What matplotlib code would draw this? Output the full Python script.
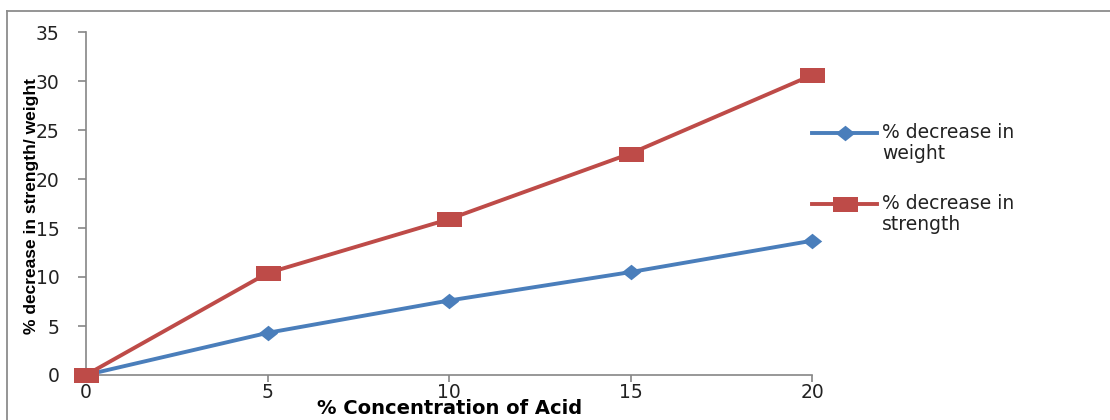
import matplotlib
matplotlib.use("Agg")
import matplotlib.pyplot as plt
from matplotlib.path import Path
from matplotlib.lines import Line2D

# Acid concentration (%) and the resulting losses (%)
concentration = [0, 5, 10, 15, 20]
weight_loss = [0, 4.3, 7.6, 10.5, 13.7]
strength_loss = [0, 10.4, 15.9, 22.6, 30.6]

x_ticks = [0, 5, 10, 15, 20]
y_ticks = [0, 5, 10, 15, 20, 25, 30, 35]

series_labels = ["% decrease in\nweight", "% decrease in\nstrength"]

BLUE = "#4A7EBB"
RED = "#BE4B48"
AXIS_GREY = "#868686"

# wide diamond and flat rectangle markers
diamond = Path([(0, -0.8), (1, 0), (0, 0.8), (-1, 0), (0, -0.8)],
               [Path.MOVETO, Path.LINETO, Path.LINETO, Path.LINETO, Path.CLOSEPOLY])
rect = Path([(-1, -0.6), (1, -0.6), (1, 0.6), (-1, 0.6), (-1, -0.6)],
            [Path.MOVETO, Path.LINETO, Path.LINETO, Path.LINETO, Path.CLOSEPOLY])

W, H = 1110, 420
fig = plt.figure(figsize=(W / 100, H / 100), dpi=100)
fig.patch.set_facecolor("white")


def fx(px):
    return px / W


def fy(py):
    return 1 - py / H


ax = fig.add_axes([fx(86), fy(375), fx(812) - fx(86), fy(32) - fy(375)])

ax.plot(concentration, weight_loss, color=BLUE, lw=2.8, marker=diamond,
        markersize=14, markeredgewidth=0, markerfacecolor=BLUE, clip_on=False,
        zorder=3)
ax.plot(concentration, strength_loss, color=RED, lw=2.8, marker=rect,
        markersize=18, markeredgewidth=0, markerfacecolor=RED, clip_on=False,
        zorder=4)

ax.set_xlim(0, 20)
ax.set_ylim(0, 35)
ax.set_xticks(x_ticks)
ax.set_yticks(y_ticks)
ax.set_xticklabels([str(v) for v in x_ticks])
ax.set_yticklabels([str(v) for v in y_ticks])

for side in ("top", "right"):
    ax.spines[side].set_visible(False)
for side in ("left", "bottom"):
    ax.spines[side].set_color(AXIS_GREY)
    ax.spines[side].set_linewidth(1.2)

ax.tick_params(axis="y", direction="out", length=6, width=1.2, color=AXIS_GREY,
               pad=13, labelsize=13.5, labelcolor="#222222")
ax.tick_params(axis="x", direction="out", length=5, width=1.2, color=AXIS_GREY,
               pad=1, labelsize=13.5, labelcolor="#222222")

# axis titles overlap the tick labels, as in the original layout
fig.text(fx(450), fy(409), "% Concentration of Acid", ha="center", va="center",
         fontsize=14, fontweight="bold", color="black")
fig.text(fx(32), fy(206), "% decrease in strength/ weight", ha="center",
         va="center", rotation=90, fontsize=12.5, fontweight="bold",
         family=["Liberation Sans", "DejaVu Sans"], color="black")

# legend entries
legend_rows = [(133, BLUE, diamond, 14), (204, RED, rect, 18)]
for (ly, col, mk, ms), label in zip(legend_rows, series_labels):
    fig.add_artist(Line2D([fx(812), fx(877)], [fy(ly), fy(ly)], color=col,
                          lw=2.8, transform=fig.transFigure))
    fig.add_artist(Line2D([fx(844.5)], [fy(ly)], color=col, marker=mk,
                          markersize=ms, markeredgewidth=0,
                          transform=fig.transFigure))
    fig.text(fx(882), fy(ly - 10), label, ha="left", va="top", fontsize=13.5,
             color="#222222", linespacing=1.15)

# outer chart frame
fig.add_artist(Line2D([fx(7), 1.0], [fy(10.5), fy(10.5)], color="#8c8c8c",
                      lw=1.3, transform=fig.transFigure))
fig.add_artist(Line2D([fx(7), fx(7)], [fy(10.5), 0.0], color="#8c8c8c",
                      lw=1.3, transform=fig.transFigure))

fig.savefig("out.png", dpi=100, facecolor="white")
